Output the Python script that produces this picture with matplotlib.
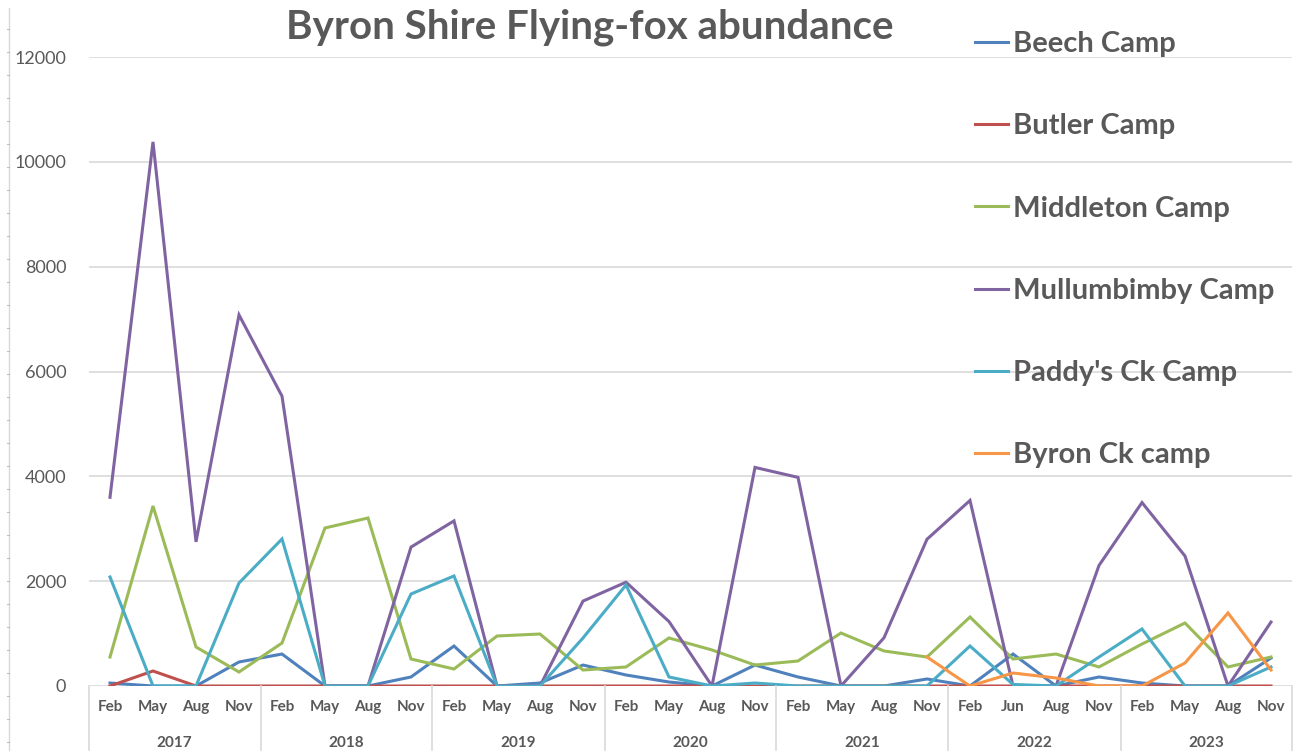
import matplotlib.pyplot as plt
import numpy as np
from matplotlib.lines import Line2D

plt.rcParams['font.family'] = ['Lato', 'DejaVu Sans']

months = ['Feb', 'May', 'Aug', 'Nov'] * 5 + ['Feb', 'Jun', 'Aug', 'Nov'] + ['Feb', 'May', 'Aug', 'Nov']
years = ['2017', '2018', '2019', '2020', '2021', '2022', '2023']

beech = [57, 0, 0, 458, 610, 0, 0, 172, 763, 0, 57, 400, 210, 76, 0, 400,
         172, 0, 0, 134, 0, 610, 0, 172, 57, 0, 0, 534]
butler = [0, 286, 0, 0, 0, 0, 0, 0, 0, 0, 0, 0, 0, 0, 0, 0,
          0, 0, 0, 0, 0, 0, 0, 0, 0, 0, 0, 0]
middleton = [553, 3434, 744, 267, 820, 3015, 3205, 515, 324, 954, 992, 305, 363, 916, 687, 400,
             477, 1011, 668, 553, 1316, 515, 610, 363, 801, 1202, 363, 553]
mullumbimby = [3600, 10380, 2750, 7080, 5530, 0, 0, 2650, 3150, 0, 0, 1620, 1980, 1230, 0, 4170,
               3980, 0, 920, 2800, 3540, 0, 0, 2300, 3500, 2480, 0, 1220]
paddys = [2080, 0, 0, 1965, 2805, 0, 0, 1755, 2099, 0, 0, 916, 1927, 172, 0, 57,
          0, 0, 0, 0, 763, 30, 0, 553, 1088, 0, 0, 363]
byron = [np.nan] * 19 + [553, 0, 248, 153, 0, 0, 439, 1393, 305]

series = {
    'Beech Camp': (beech, '#4F81BD'),
    'Butler Camp': (butler, '#C0504D'),
    'Middleton Camp': (middleton, '#9BBB59'),
    'Mullumbimby Camp': (mullumbimby, '#8064A2'),
    "Paddy's Ck Camp": (paddys, '#4BACC6'),
    'Byron Ck camp': (byron, '#F79646'),
}

grey = '#595959'

fig = plt.figure(figsize=(13, 7.55), dpi=100)
ax = fig.add_axes([88.5 / 1300, 1 - 686 / 755, (1292.5 - 88.5) / 1300, (686 - 57) / 755])

x = np.arange(len(months))
for name, (vals, col) in series.items():
    ax.plot(x, vals, color=col, lw=2.2, label=name, solid_joinstyle='miter')

ax.set_xlim(-0.5, len(months) - 0.5)
ax.set_ylim(0, 12000)
ax.set_yticks(range(0, 12001, 2000))
ax.set_yticklabels([str(v) for v in range(0, 12001, 2000)], fontsize=13, color=grey)
ax.tick_params(axis='y', length=0, pad=16)
ax.set_xticks(x)
ax.set_xticklabels(months, fontsize=11, color=grey, fontweight='bold')
ax.tick_params(axis='x', length=0, pad=10)
ax.grid(axis='y', color='#D9D9D9', lw=1.2)
ax.set_axisbelow(True)
for s in ax.spines.values():
    s.set_visible(False)

# year labels and group separators under the month labels
trans = ax.get_xaxis_transform()
for i, yr in enumerate(years):
    ax.text(i * 4 + 1.5, -0.09, yr, transform=trans, ha='center', va='center',
            fontsize=11, color=grey, fontweight='bold')
for i in range(len(years) + 1):
    ax.plot([i * 4 - 0.5, i * 4 - 0.5], [0, -0.102], transform=trans,
            color='#D9D9D9', lw=1.2, clip_on=False)

fig.text(590 / 1300, 1 - 27 / 755, 'Byron Shire Flying-fox abundance', ha='center', va='center',
         fontsize=29, fontweight='bold', color=grey)

leg = ax.legend(loc='upper left', bbox_to_anchor=(975 / 1300, 1 - 31 / 755),
                bbox_transform=fig.transFigure, frameon=False, fontsize=21,
                handlelength=1.14, handletextpad=0.17, labelspacing=1.93,
                borderpad=0, borderaxespad=0)
for t in leg.get_texts():
    t.set_color(grey)
    t.set_fontweight('bold')

# thin border line at the left edge with small ticks
fig.add_artist(Line2D([9 / 1300, 9 / 1300], [1 - 750 / 755, 1 - 8 / 755], color='#D9D9D9', lw=1))
for py in range(29, 750, 23):
    fig.add_artist(Line2D([7 / 1300, 9 / 1300], [1 - py / 755, 1 - py / 755], color='#BFBFBF', lw=0.8))

fig.savefig('out.png', dpi=100)
